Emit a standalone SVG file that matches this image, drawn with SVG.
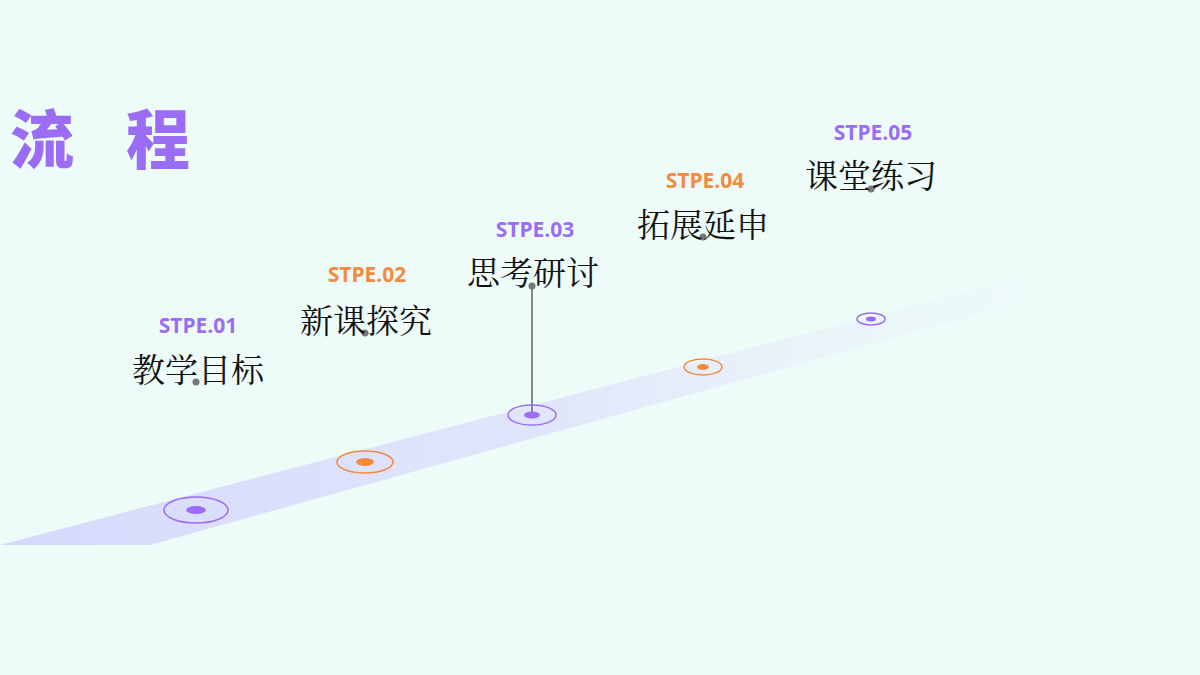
<svg xmlns="http://www.w3.org/2000/svg" width="1200" height="675" viewBox="0 0 1200 675">
<defs>
<linearGradient id="band" x1="0" y1="0" x2="1" y2="0">
<stop offset="0" stop-color="#d6d9fb"/><stop offset="0.55" stop-color="#e2e6fb"/><stop offset="1" stop-color="#eaf6f8" stop-opacity="0.3"/>
</linearGradient>
<linearGradient id="gp" x1="0" y1="0" x2="0" y2="1"><stop offset="0" stop-color="#888"/><stop offset="1" stop-color="#9b6cf5"/></linearGradient>
<linearGradient id="go" x1="0" y1="0" x2="0" y2="1"><stop offset="0" stop-color="#888"/><stop offset="1" stop-color="#f58a3c"/></linearGradient>
<style>
.st{font-family:"Open Sans","Noto Sans",sans-serif;font-weight:700;font-size:21px;text-anchor:middle}
.cn{font-family:"Noto Serif CJK SC","Noto Sans CJK SC",serif;font-size:33px;text-anchor:middle;fill:#111}
.p{fill:#9b6cf5}.o{fill:#f58a3c}
</style>
</defs>
<rect width="1200" height="675" fill="#eefcf9"/>
<polygon points="0,545 150,545 1030,300 1010,280" fill="url(#band)"/>
<text x="10" y="163" font-family="'Noto Sans CJK SC',sans-serif" font-weight="900" font-size="64" fill="#9b6cf5" letter-spacing="52">流程</text>
<g id="connectors">
<line x1="196" y1="382" x2="196" y2="510" stroke="url(#gp)" stroke-width="2"/>
<line x1="365" y1="333" x2="365" y2="462" stroke="url(#go)" stroke-width="2"/>
<line x1="532" y1="286" x2="532" y2="415" stroke="#888" stroke-width="2"/>
<line x1="703" y1="237" x2="703" y2="367" stroke="url(#go)" stroke-width="2"/>
<line x1="871" y1="189" x2="871" y2="319" stroke="url(#gp)" stroke-width="2"/>
</g>
<g id="n1"><ellipse cx="196" cy="510" rx="32" ry="13" fill="none" stroke="#9b6cf5" stroke-width="1.5"/><ellipse cx="196" cy="510" rx="10" ry="4" class="p"/><circle cx="196" cy="382" r="3.5" fill="#777"/><text x="198" y="333" class="st p">STPE.01</text><text x="198" y="382" class="cn">教学目标</text></g>
<g id="n2"><ellipse cx="365" cy="462" rx="28" ry="11" fill="none" stroke="#f58a3c" stroke-width="1.5"/><ellipse cx="365" cy="462" rx="9" ry="4" class="o"/><circle cx="365" cy="333" r="3.5" fill="#777"/><text x="367" y="282" class="st o">STPE.02</text><text x="366" y="333" class="cn">新课探究</text></g>
<g id="n3"><ellipse cx="532" cy="415" rx="24" ry="10" fill="none" stroke="#9b6cf5" stroke-width="1.5"/><ellipse cx="532" cy="415" rx="8" ry="3.5" class="p"/><circle cx="532" cy="286" r="3.5" fill="#777"/><text x="535" y="237" class="st p">STPE.03</text><text x="533" y="285" class="cn">思考研讨</text></g>
<g id="n4"><ellipse cx="703" cy="367" rx="19" ry="8" fill="none" stroke="#f58a3c" stroke-width="1.5"/><ellipse cx="703" cy="367" rx="6" ry="3" class="o"/><circle cx="703" cy="237" r="3.5" fill="#777"/><text x="705" y="188" class="st o">STPE.04</text><text x="703" y="237" class="cn">拓展延申</text></g>
<g id="n5"><ellipse cx="871" cy="319" rx="14" ry="6" fill="none" stroke="#9b6cf5" stroke-width="1.5"/><ellipse cx="871" cy="319" rx="5" ry="2.5" class="p"/><circle cx="871" cy="189" r="3.5" fill="#777"/><text x="873" y="140" class="st p">STPE.05</text><text x="871" y="188" class="cn">课堂练习</text></g>
</svg>
